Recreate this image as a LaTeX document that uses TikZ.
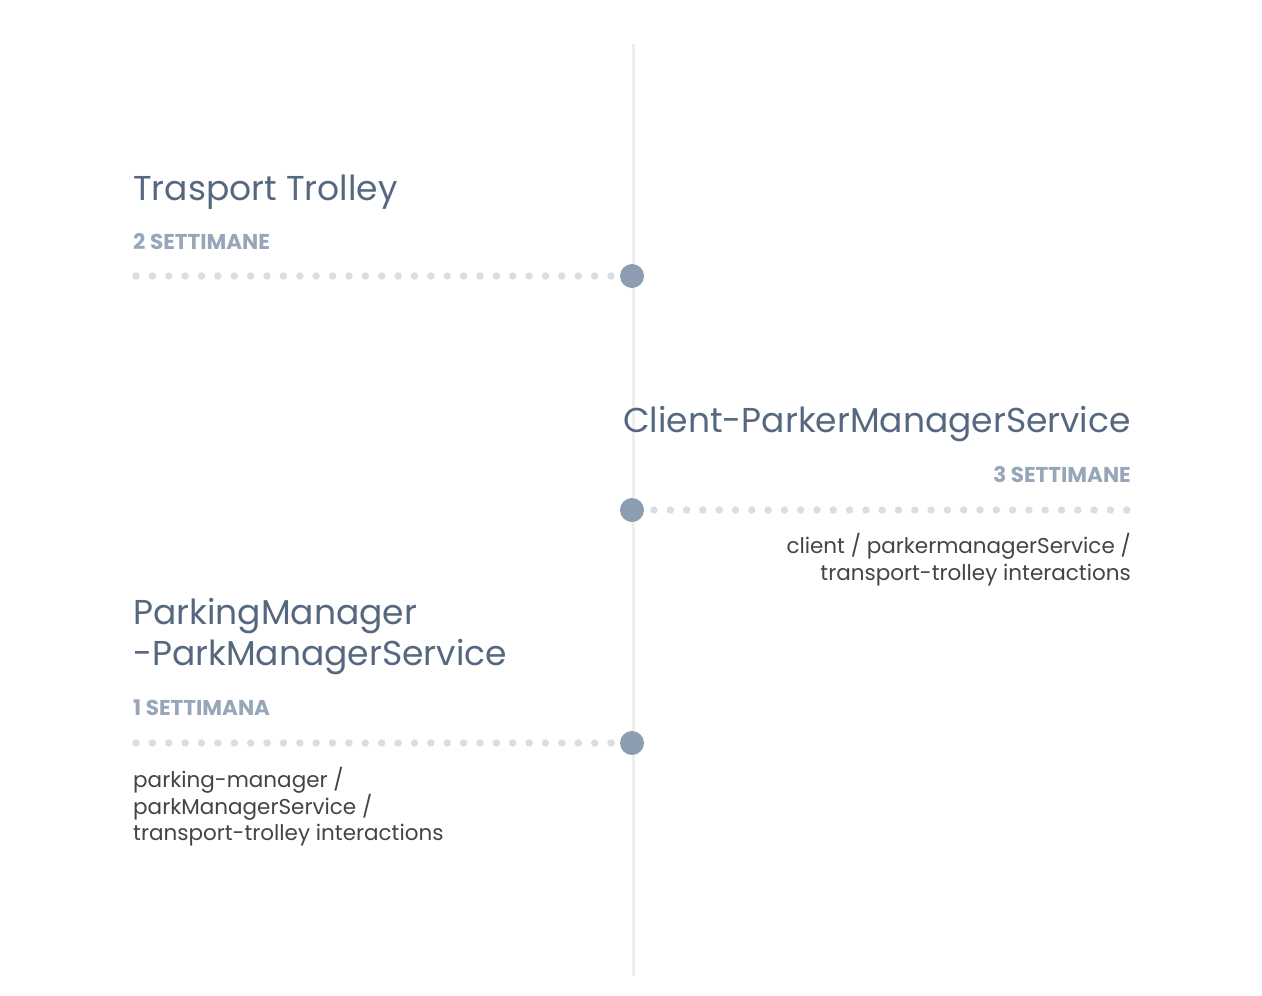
\documentclass[tikz,border=0pt]{standalone}
\usepackage{fontspec}
\setmainfont{Poppins}
\usetikzlibrary{positioning}

\definecolor{titlegray}{HTML}{56687F}
\definecolor{weekgray}{HTML}{97A6B8}
\definecolor{descgray}{HTML}{444444}
\definecolor{dotblue}{HTML}{8C9DB1}
\definecolor{pipgray}{HTML}{D9DEE5}
\definecolor{railgray}{HTML}{EEEEEE}

\tikzset{
  title/.style={font=\fontsize{34.5}{41}\selectfont, text=titlegray, inner sep=0pt},
  weeks/.style={font=\fontsize{21.5}{24}\selectfont\bfseries, text=weekgray, inner sep=0pt},
  desc/.style={font=\fontsize{21.5}{26.5}\selectfont, text=descgray, inner sep=0pt},
  milestone/.style={circle, fill=dotblue, minimum size=24pt, inner sep=0pt},
  pip/.style={circle, fill=pipgray, minimum size=7.5pt, inner sep=0pt}
}

\begin{document}
\begin{tikzpicture}[x=1pt,y=-1pt]
\useasboundingbox (0,0) rectangle (1262,996);
\coordinate (top) at (633,44);
\coordinate (bottom) at (633,976);
\draw [line width=3pt, railgray] (top) -- (bottom);

% trasport trolley
\foreach \i in {0,...,29} \node [pip] (pa\i) at (136+16.38*\i,276) {};
\node [milestone] (ma) at (632,276) {};
\node [title, anchor=base west] (ta) at (133,200) {Trasport Trolley};
\node [weeks, anchor=base west] (wa) at (133,249) {2 SETTIMANE};

% client
\foreach \i in {0,...,29} \node [pip] (pb\i) at (654+16.3*\i,510) {};
\node [milestone] (mb) at (632,510) {};
\node [title, anchor=base east] (tb) at (1131,432) {Client-ParkerManagerService};
\node [weeks, anchor=base east] (wb) at (1131,482) {3 SETTIMANE};
\node [desc, anchor=base east, align=right] (db) at (1131,580) {client / parkermanagerService /\\transport-trolley interactions};

% parking manager
\foreach \i in {0,...,29} \node [pip] (pc\i) at (136+16.38*\i,743) {};
\node [milestone] (mc) at (632,743) {};
\node [title, anchor=base west, align=left] (tc) at (133,665) {ParkingManager\\-ParkManagerService};
\node [weeks, anchor=base west] (wc) at (133,715) {1 SETTIMANA};
\node [desc, anchor=base west, align=left] (dc) at (133,840.5) {parking-manager /\\parkManagerService /\\transport-trolley interactions};
\end{tikzpicture}
\end{document}
